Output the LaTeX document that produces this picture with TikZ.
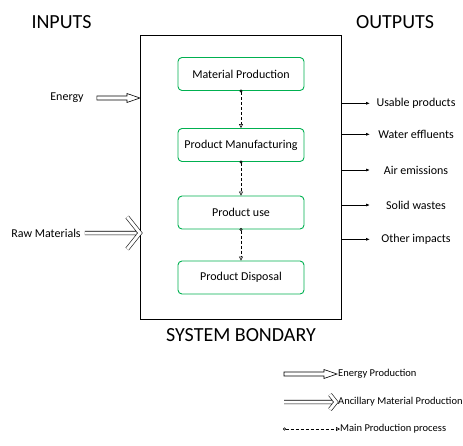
\documentclass[tikz,border=0pt]{standalone}
\usepackage{fontspec}
\setmainfont{Carlito}
\usepackage{xcolor}
\definecolor{stage}{HTML}{00B050}
\usepackage{tikz}
\usetikzlibrary{arrows.meta,positioning,calc}

\begin{document}
\begin{tikzpicture}[
  x=1pt,
  y=-1pt,
  stagebox/.style={draw=stage, line width=0.9pt, rounded corners=4pt, minimum width=126pt, minimum height=33pt, inner sep=0pt, font=\fontsize{12}{14}\selectfont},
  lbl/.style={inner sep=0pt, font=\fontsize{12}{14}\selectfont},
  leg/.style={inner sep=0pt, anchor=west, font=\fontsize{10.5}{12}\selectfont},
  head/.style={inner sep=0pt, font=\fontsize{20}{24}\selectfont},
  flow/.style={line width=0.6pt, dash pattern=on 3pt off 2pt, {Circle[open, length=3pt]}-{Triangle[open, length=4pt, width=4pt]}},
  outarrow/.style={line width=0.7pt, -{Latex[length=4pt, width=3pt]}},
  hollowarr/.style={line width=0.6pt, to path={
    let \p1=(\tikztostart), \p2=(\tikztotarget) in
    (\x1,\y1+2pt) -- (\x2-13pt,\y1+2pt) -- (\x2-13pt,\y1+4.5pt) -- (\x2,\y1)
    -- (\x2-13pt,\y1-4.5pt) -- (\x2-13pt,\y1-2pt) -- (\x1,\y1-2pt) -- cycle}},
  chevron/.style={double, double distance=3pt, line width=0.6pt, to path={
    let \p1=(\tikztostart), \p2=(\tikztotarget) in
    (\x1,\y1) -- (\x2-4pt,\y1)
    (\x2-#1*0.8pt,\y1+#1*1pt) -- (\x2,\y1) -- (\x2-#1*0.8pt,\y1-#1*1pt)}},
]
\useasboundingbox (0,0) rectangle (463,445);

% Headings
\node[head] (inputs) at (61.5,22) {INPUTS};
\node[head] (outputs) at (395,22) {OUTPUTS};
\node[head] (bondary) at (241,335) {SYSTEM BONDARY};

% System boundary
\node[draw, line width=0.9pt, minimum width=201pt, minimum height=284pt, anchor=north west] (sys) at (140,35) {};

% Stages
\node[stagebox] (mat) at (241,74) {Material Production};
\node[stagebox] (man) at (241,145) {Product Manufacturing};
\node[stagebox] (use) at (241,212.5) {Product use};
\node[stagebox] (dis) at (241,277.5) {Product Disposal};

\draw[flow] ([yshift=1.5pt]mat.south) -- (man);
\draw[flow] ([yshift=1.5pt]man.south) -- (use);
\draw[flow] ([yshift=1.5pt]use.south) -- (dis);

% Inputs
\node[lbl] (energy) at (67,98) {Energy};
\node[lbl] (raw) at (46,233) {Raw Materials};
\draw[hollowarr] ([xshift=13pt]energy.east) to (sys.west |- energy);
\draw[chevron=16] ([xshift=4pt]raw.east) to (sys.west |- raw);

% Outputs
\foreach \y/\t/\n in {103.3/Usable products/usable, 134.3/Water effluents/water,
                      170/Air emissions/air, 205/Solid wastes/solid, 239.3/Other impacts/other}{
  \coordinate (\n end) at (370,\y);
  \node[lbl] (\n) at (416,\y) {\t};
  \draw[outarrow] (sys.east |- \n end) -- (\n end);
}

% Legend
\node[leg] (legen) at (338,374) {Energy Production};
\node[leg] (legam) at (338,402) {Ancillary Material Production};
\node[leg] (legmp) at (340,429) {Main Production process};
\coordinate (legen0) at (284,374);
\coordinate (legam0) at (284,402);
\coordinate (legmp0) at (283,429);
\draw[hollowarr] (legen0) to ([xshift=-1pt]legen.west);
\draw[chevron=7.5] (legam0) to ([xshift=-2pt]legam.west);
\draw[flow] (legmp0) -- (legmp.west);

\end{tikzpicture}
\end{document}
